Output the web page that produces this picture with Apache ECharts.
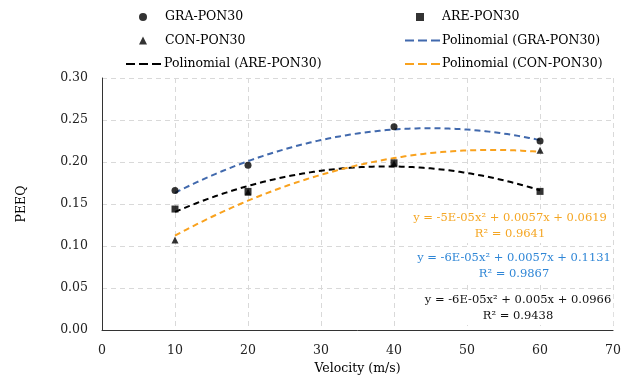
<!DOCTYPE html>
<html>
<head>
<meta charset="utf-8">
<script src="https://cdn.jsdelivr.net/npm/echarts@6/dist/echarts.min.js"></script>
<style>
  html, body { margin: 0; padding: 0; background: #fff; }
  #chart { width: 624px; height: 383px; }
</style>
</head>
<body>
<div id="chart"></div>
<script>
// Velocity values (m/s) at which PEEQ was sampled
const velocity = [10, 20, 40, 60];

// PEEQ per material
const graPeeq = [0.166, 0.196, 0.242, 0.225];
const arePeeq = [0.144, 0.165, 0.199, 0.165];
const conPeeq = [0.107, 0.164, 0.198, 0.214];

// Trendline equations shown on the chart
const conEquation = ['y = -5E-05x² + 0.0057x + 0.0619', 'R² = 0.9641'];
const graEquation = ['y = -6E-05x² + 0.0057x + 0.1131', 'R² = 0.9867'];
const areEquation = ['y = -6E-05x² + 0.005x + 0.0966', 'R² = 0.9438'];

const FONT = 'DejaVu Serif';

// Least-squares 2nd order polynomial fit, returns [a, b, c] for a x² + b x + c
function polyFit2(xs, ys) {
  let s0 = xs.length, s1 = 0, s2 = 0, s3 = 0, s4 = 0, t0 = 0, t1 = 0, t2 = 0;
  for (let i = 0; i < xs.length; i++) {
    const x = xs[i], y = ys[i];
    s1 += x; s2 += x * x; s3 += x * x * x; s4 += x * x * x * x;
    t0 += y; t1 += x * y; t2 += x * x * y;
  }
  // Solve [[s4,s3,s2],[s3,s2,s1],[s2,s1,s0]] * [a,b,c] = [t2,t1,t0]
  const M = [[s4, s3, s2, t2], [s3, s2, s1, t1], [s2, s1, s0, t0]];
  for (let i = 0; i < 3; i++) {
    for (let j = i + 1; j < 3; j++) {
      const f = M[j][i] / M[i][i];
      for (let k = i; k < 4; k++) M[j][k] -= f * M[i][k];
    }
  }
  const r = [0, 0, 0];
  for (let i = 2; i >= 0; i--) {
    let s = M[i][3];
    for (let k = i + 1; k < 3; k++) s -= M[i][k] * r[k];
    r[i] = s / M[i][i];
  }
  return r;
}

// Sample a fitted trend curve over the measured velocity range
function trendCurve(xs, ys) {
  const [a, b, c] = polyFit2(xs, ys);
  const pts = [];
  const x0 = Math.min(...xs), x1 = Math.max(...xs);
  for (let x = x0; x <= x1 + 1e-9; x += 0.5) pts.push([x, a * x * x + b * x + c]);
  return pts;
}

const pairs = (xs, ys) => xs.map((x, i) => [x, ys[i]]);

const chart = echarts.init(document.getElementById('chart'), null, { renderer: 'canvas' });

const markerSeries = (name, symbol, size, values) => ({
  name, type: 'scatter', symbol, symbolSize: size, symbolKeepAspect: true,
  itemStyle: { color: '#000' }, data: pairs(velocity, values), z: 5
});

const trendSeries = (name, color, values) => ({
  name, type: 'line', symbol: 'none', showSymbol: false, smooth: false,
  lineStyle: { color, width: 2, type: [6, 4] }, itemStyle: { color },
  data: trendCurve(velocity, values), z: 3, silent: true
});

const ROW_TOP = 10;
const ROW_STEP = 23.5;
const legendText = { fontFamily: FONT, fontSize: 12.5, color: '#000', lineHeight: 14 };

// Legend group for marker series: small symbol, text pushed right
const markerLegend = (left, row, names) => ({
  orient: 'vertical', left, top: ROW_TOP + row * ROW_STEP, padding: 0,
  itemWidth: 8, itemHeight: 8, itemGap: ROW_STEP - 14,
  textStyle: Object.assign({}, legendText, { padding: [0, 0, 0, 13] }),
  itemStyle: { borderWidth: 0 },
  data: names
});

// Legend group for trend lines: dashed line icon
const lineLegend = (left, width, row, names) => ({
  orient: 'vertical', left, top: ROW_TOP + row * ROW_STEP, padding: 0,
  itemWidth: width, itemHeight: 8, itemGap: ROW_STEP - 14,
  textStyle: Object.assign({}, legendText, { padding: [0, 0, 0, -3] }),
  itemStyle: { opacity: 0 },
  lineStyle: { type: [9, 4], width: 2 },
  data: names
});

const eqBlock = (lines, color, cx, y) => ({
  type: 'text', x: cx, y,
  style: {
    text: lines.join('\n'), fill: color, font: '11.5px "' + FONT + '"',
    align: 'center', verticalAlign: 'top', lineHeight: 16,
    backgroundColor: '#fff', padding: [1, 2]
  },
  z: 10
});

chart.setOption({
  animation: false,
  backgroundColor: '#fff',
  textStyle: { fontFamily: FONT },
  grid: { left: 102, right: 8, top: 78, bottom: 53, containLabel: false },
  legend: [
    markerLegend(139, 0, ['GRA-PON30', 'CON-PON30']),
    lineLegend(125, 36, 2, ['Polinomial (ARE-PON30)']),
    markerLegend(416, 0, ['ARE-PON30']),
    lineLegend(404, 35, 1, ['Polinomial (GRA-PON30)', 'Polinomial (CON-PON30)'])
  ],
  xAxis: {
    type: 'value', min: 0, max: 70, interval: 10,
    name: 'Velocity (m/s)', nameLocation: 'middle', nameGap: 32,
    nameTextStyle: { fontFamily: FONT, fontSize: 12.5, color: '#000' },
    axisLine: { show: true, lineStyle: { color: '#333', width: 1 } },
    axisTick: { show: false },
    axisLabel: { fontFamily: FONT, fontSize: 12.5, color: '#222', margin: 14 },
    splitLine: { show: true, lineStyle: { color: '#d9d9d9', type: [5, 4], width: 1 } }
  },
  yAxis: {
    type: 'value', min: 0, max: 0.3, interval: 0.05,
    name: 'PEEQ', nameLocation: 'middle', nameGap: 74, nameRotate: 90,
    nameTextStyle: { fontFamily: FONT, fontSize: 12.5, color: '#000' },
    axisLine: { show: true, onZero: false, lineStyle: { color: '#333', width: 1 } },
    axisTick: { show: false },
    axisLabel: { fontFamily: FONT, fontSize: 12.5, color: '#222', margin: 14,
      formatter: v => v.toFixed(2) },
    splitLine: { show: true, lineStyle: { color: '#d9d9d9', type: [5, 4], width: 1 } }
  },
  series: [
    trendSeries('Polinomial (GRA-PON30)', '#4169ad', graPeeq),
    trendSeries('Polinomial (ARE-PON30)', '#000000', arePeeq),
    trendSeries('Polinomial (CON-PON30)', '#f9a21e', conPeeq),
    markerSeries('GRA-PON30', 'circle', 7, graPeeq),
    markerSeries('CON-PON30', 'triangle', 7, conPeeq),
    markerSeries('ARE-PON30', 'rect', 7, arePeeq)
  ],
  graphic: [
    eqBlock(conEquation, '#f5a623', 510, 209),
    eqBlock(graEquation, '#2f86d6', 514, 249),
    eqBlock(areEquation, '#111', 518, 291)
  ]
});
</script>
</body>
</html>
